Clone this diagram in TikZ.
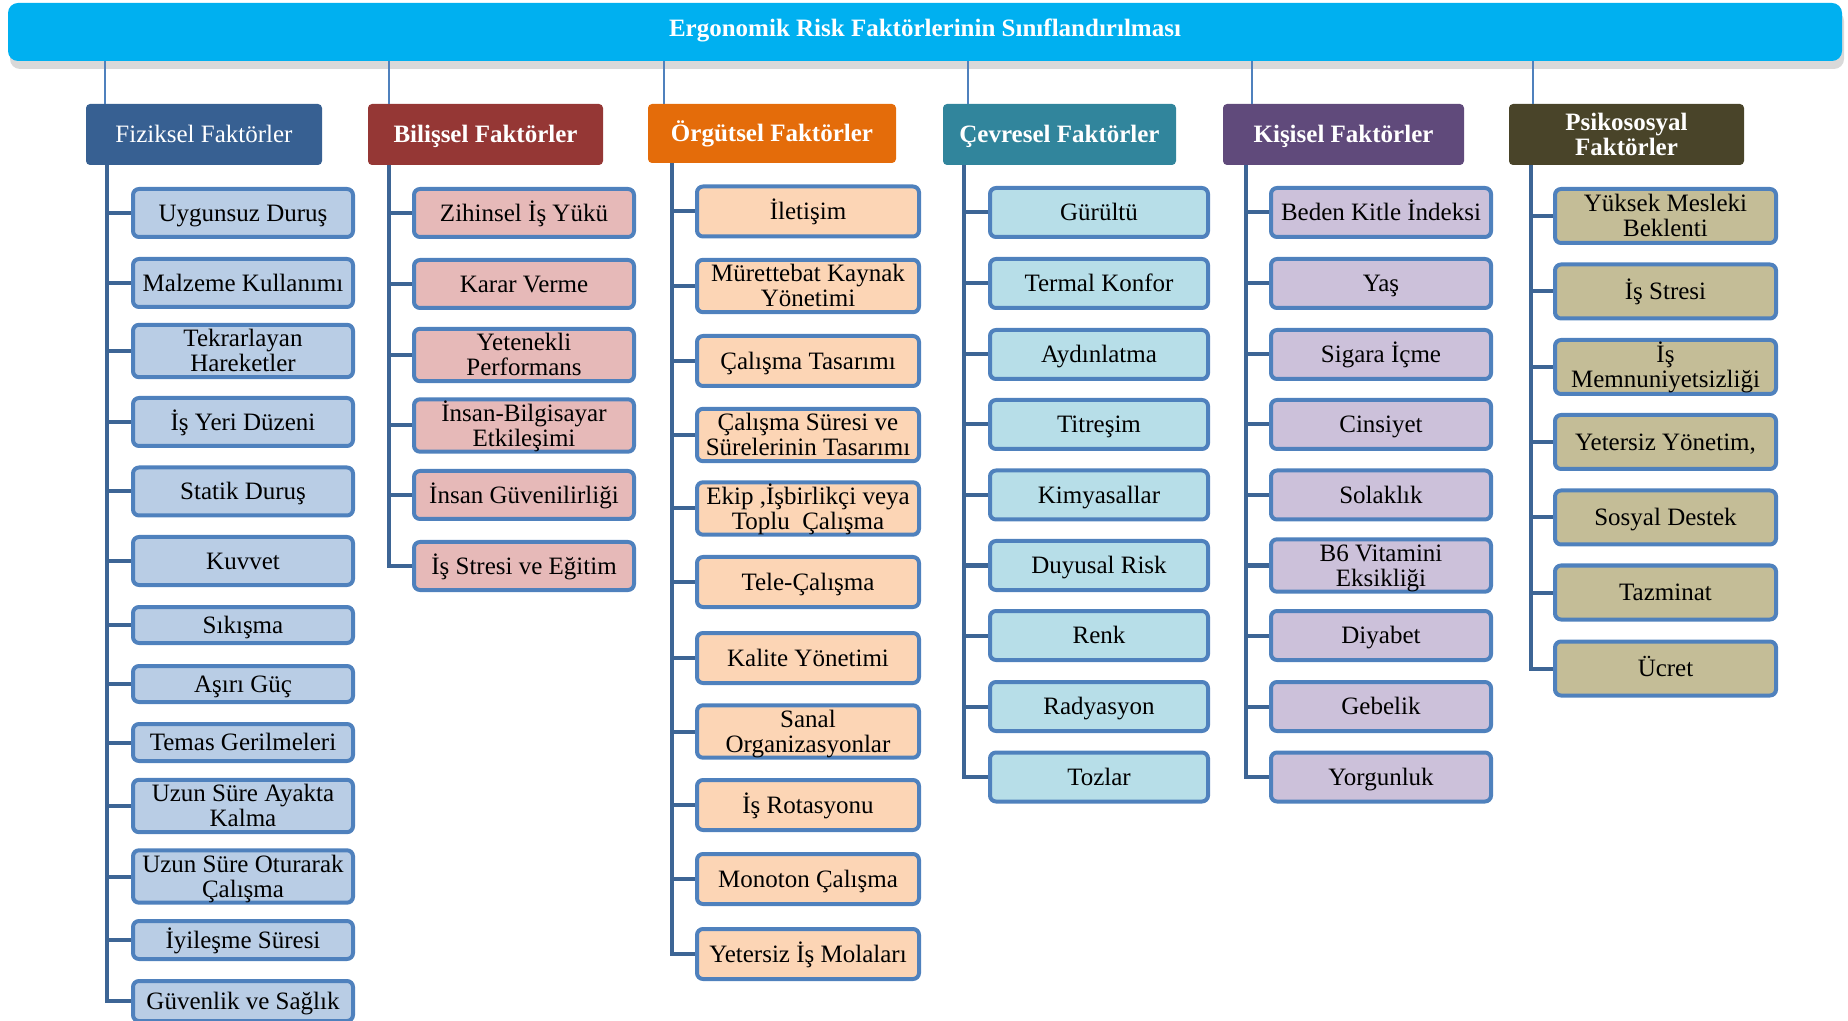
\documentclass[tikz,border=0pt]{standalone}
\usepackage{fontspec}
\setmainfont{Liberation Serif}
\usetikzlibrary{shadows}

\definecolor{titlecol}{HTML}{00B0F0}
\definecolor{fizhead}{HTML}{376092}
\definecolor{fizfill}{HTML}{B9CDE5}
\definecolor{bilhead}{HTML}{953735}
\definecolor{bilfill}{HTML}{E6B9B8}
\definecolor{orghead}{HTML}{E46C0A}
\definecolor{orgfill}{HTML}{FCD5B5}
\definecolor{cevhead}{HTML}{31859C}
\definecolor{cevfill}{HTML}{B7DEE8}
\definecolor{kishead}{HTML}{604A7B}
\definecolor{kisfill}{HTML}{CCC1DA}
\definecolor{psihead}{HTML}{494429}
\definecolor{psifill}{HTML}{C4BD97}
\definecolor{kidline}{HTML}{4F81BD}
\definecolor{spinecol}{HTML}{3D6595}

\newcommand\boxfont{\fontsize{12.5}{12.5}\selectfont}
% keeps the capitals in the middle of a box
\newcommand\capstrut{\rule[-2.7pt]{0pt}{13.7pt}}
% two centred lines, 12.5pt apart
\newcommand\two[2]{\vbox{\halign{\hfil##\hfil\cr\rule{0pt}{11pt}#1\cr#2\cr}}}

\begin{document}
\begin{tikzpicture}[x=0.5pt, y=-0.5pt]
        \tikzstyle{every node}=[font=\boxfont, inner sep=0pt, execute at begin node=\capstrut]
        \tikzstyle{kid}=[draw=kidline, line width=2pt, rounded corners=3pt, text=black]
        \tikzstyle{head}=[rounded corners=2pt, text=white, minimum height=30.5pt, font=\boxfont\bfseries]
        \tikzstyle{spine}=[draw=spinecol, line width=2pt]
        \tikzstyle{link}=[draw=kidline, line width=0.7pt]
        \useasboundingbox (0,0) rectangle (1848,1021);

        % top bar
        \node [fill=titlecol, rounded corners=5pt, minimum width=917pt, minimum height=29pt, text=white, font=\boxfont\bfseries,
               drop shadow={shadow xshift=1pt, shadow yshift=-4pt, opacity=0.3}] (title) at (925,32)
               {Ergonomik Risk Faktörlerinin Sınıflandırılması\rule[-6.7pt]{0pt}{6.7pt}};

        % column heads
        \node [head, fill=fizhead, minimum width=118pt, font=\boxfont] (fizh) at (204,134.5) {Fiziksel Faktörler};
        \node [head, fill=bilhead, minimum width=117.5pt] (bilh) at (485.5,134.5) {Bilişsel Faktörler};
        \node [head, fill=orghead, minimum width=124pt, minimum height=29.5pt] (orgh) at (772,133.5) {Örgütsel Faktörler};
        \node [head, fill=cevhead, minimum width=116.5pt] (cevh) at (1059.5,134.5) {Çevresel Faktörler};
        \node [head, fill=kishead, minimum width=120.5pt] (kish) at (1343.5,134.5) {Kişisel Faktörler};
        \node [head, fill=psihead, minimum width=117.5pt] (psih) at (1626.5,134.5) {\two{Psikososyal}{Faktörler}};

        % where the lines meet the bar and the heads
        \coordinate (fizl) at (105,0);  \coordinate (fizs) at (107,0);
        \coordinate (bill) at (389,0);  \coordinate (bils) at (389,0);
        \coordinate (orgl) at (664,0);  \coordinate (orgs) at (672,0);
        \coordinate (cevl) at (968,0);  \coordinate (cevs) at (964,0);
        \coordinate (kisl) at (1252,0); \coordinate (kiss) at (1246,0);
        \coordinate (psil) at (1533,0); \coordinate (psis) at (1531,0);
        \foreach \c in {fiz,bil,org,cev,kis,psi}
            \draw [link] (title.south -| \c l) -- (\c h.north -| \c l);

        % Fiziksel
        \foreach \y/\h/\t [count=\i] in {213/24/Uygunsuz Duruş, 283/24/Malzeme Kullanımı, 351/24/{\two{Tekrarlayan}{Hareketler}},
                422/24/İş Yeri Düzeni, 491.5/24/Statik Duruş, 561/24/Kuvvet, 625/18/Sıkışma, 684/18/Aşırı Güç,
                742.5/18.5/Temas Gerilmeleri, 806/24/{\two{Uzun Süre Ayakta}{Kalma}}, 876.5/24.5/{\two{Uzun Süre Oturarak}{Çalışma}},
                940/19/İyileşme Süresi, 1001/20/Güvenlik ve Sağlık} {
            \node [kid, fill=fizfill, minimum width=110pt, minimum height=\h] (fiz\i) at (243,\y) {\t};
            \draw [spine] (fizh.south -| fizs) |- (fiz\i.west);
        }

        % Bilişsel
        \foreach \y/\t [count=\i] in {213/Zihinsel İş Yükü, 284/Karar Verme, 355/{\two{Yetenekli}{Performans}},
                425.5/{\two{İnsan-Bilgisayar}{Etkileşimi}}, 495/İnsan Güvenilirliği, 566/İş Stresi ve Eğitim} {
            \node [kid, fill=bilfill, minimum width=110pt, minimum height=24pt] (bil\i) at (524,\y) {\t};
            \draw [spine] (bilh.south -| bils) |- (bil\i.west);
        }

        % Örgütsel
        \foreach \y/\t [count=\i] in {211.5/İletişim, 286/{\two{Mürettebat Kaynak}{Yönetimi}}, 361/Çalışma Tasarımı,
                435/{\two{Çalışma Süresi ve}{Sürelerinin Tasarımı}}, 508.5/{\two{Ekip ,İşbirlikçi veya}{Toplu\ \ Çalışma}},
                582/Tele-Çalışma, 658/Kalite Yönetimi, 731.5/{\two{Sanal}{Organizasyonlar}}, 805/İş Rotasyonu,
                879/Monoton Çalışma, 954/Yetersiz İş Molaları} {
            \node [kid, fill=orgfill, minimum width=111pt, minimum height=25pt] (org\i) at (808,\y) {\t};
            \draw [spine] (orgh.south -| orgs) |- (org\i.west);
        }

        % Çevresel
        \foreach \y/\t [count=\i] in {212.5/Gürültü, 283.5/Termal Konfor, 354.5/Aydınlatma, 424.5/Titreşim,
                495/Kimyasallar, 565.5/Duyusal Risk, 635.5/Renk, 706.5/Radyasyon, 777/Tozlar} {
            \node [kid, fill=cevfill, minimum width=109pt, minimum height=24.5pt] (cev\i) at (1099,\y) {\t};
            \draw [spine] (cevh.south -| cevs) |- (cev\i.west);
        }

        % Kişisel
        \foreach \y/\t [count=\i] in {212.5/Beden Kitle İndeksi, 283.5/Yaş, 354.5/Sigara İçme, 424.5/Cinsiyet,
                495/Solaklık, 565.5/{\two{B6 Vitamini}{Eksikliği}}, 635.5/Diyabet, 706.5/Gebelik, 777/Yorgunluk} {
            \node [kid, fill=kisfill, minimum width=110pt, minimum height=24.5pt] (kis\i) at (1381,\y) {\t};
            \draw [spine] (kish.south -| kiss) |- (kis\i.west);
        }

        % Psikososyal
        \foreach \y/\t [count=\i] in {216/{\two{Yüksek Mesleki}{Beklenti}}, 291.5/İş Stresi, 367/{\two{İş}{Memnuniyetsizliği}},
                442/{Yetersiz Yönetim,}, 517.5/Sosyal Destek, 592.5/Tazminat, 668.5/Ücret} {
            \node [kid, fill=psifill, minimum width=110.5pt, minimum height=27pt] (psi\i) at (1665.5,\y) {\t};
            \draw [spine] (psih.south -| psis) |- (psi\i.west);
        }
\end{tikzpicture}
\end{document}
